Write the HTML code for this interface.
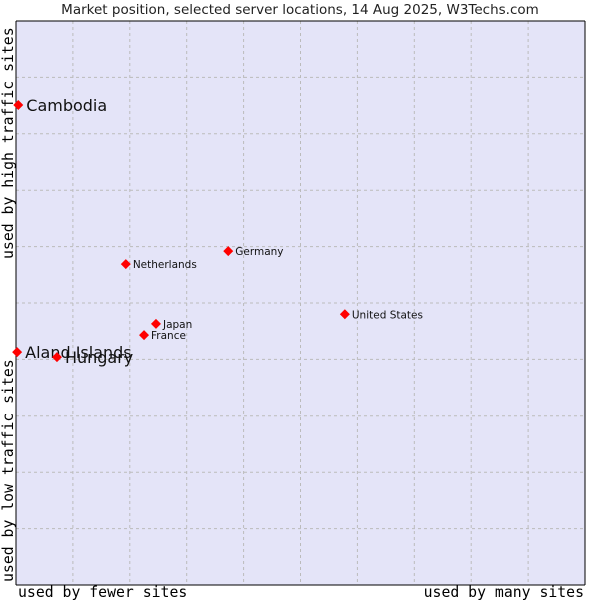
<!DOCTYPE html>
<html><head><meta charset="utf-8"><style>
body{margin:0;background:#fff;}
svg{display:block;}
</style></head><body>
<svg id="chart" width="600" height="600" xmlns="http://www.w3.org/2000/svg">
<text x="300" y="14" text-anchor="middle" font-family="DejaVu Sans, sans-serif" font-size="13.5" fill="#222">Market position, selected server locations, 14 Aug 2025, W3Techs.com</text>
<rect x="16" y="21" width="569" height="564" fill="#e4e4f8"/>
<g id="grid"></g>
<line x1="16" y1="21" x2="585" y2="21" stroke="#000"/>
<line x1="16" y1="21" x2="16" y2="585" stroke="#000"/>
<line x1="16" y1="585" x2="585" y2="585" stroke="#000"/>
<line x1="585" y1="21" x2="585" y2="585" stroke="#000"/>
<g id="points"></g>
<text x="18" y="597" font-family="DejaVu Sans Mono, monospace" font-size="14.8" fill="#000">used by fewer sites</text>
<text x="584" y="597" text-anchor="end" font-family="DejaVu Sans Mono, monospace" font-size="14.8" fill="#000">used by many sites</text>
<text transform="translate(13,259) rotate(-90)" font-family="DejaVu Sans Mono, monospace" font-size="14.8" fill="#000">used by high traffic sites</text>
<text transform="translate(13,582) rotate(-90)" font-family="DejaVu Sans Mono, monospace" font-size="14.8" fill="#000">used by low traffic sites</text>
</svg>
<script>
const names = ["Cambodia","Aland Islands","Hungary","Netherlands","Germany","United States","Japan","France"];
const xVals = [0.4,0.2,7.2,19.3,37.3,57.8,24.6,22.5];
const yVals = [85.1,41.3,40.4,56.9,59.2,48.0,46.3,44.3];
const bigLabel = [true,true,true,false,false,false,false,false];
const NS="http://www.w3.org/2000/svg";
const L=16,R=585,T=21,B=585;
const sx=v=>L+v/100*(R-L);
const sy=v=>B-v/100*(B-T);
const grid=document.getElementById('grid');
for(let i=1;i<10;i++){
  const v=document.createElementNS(NS,'line');
  v.setAttribute('x1',sx(i*10));v.setAttribute('x2',sx(i*10));v.setAttribute('y1',T);v.setAttribute('y2',B);
  v.setAttribute('stroke','#bbb');v.setAttribute('stroke-dasharray','3,3');
  
  
  grid.appendChild(v);
  const h=document.createElementNS(NS,'line');
  h.setAttribute('y1',sy(i*10));h.setAttribute('y2',sy(i*10));h.setAttribute('x1',L);h.setAttribute('x2',R);
  h.setAttribute('stroke','#bbb');h.setAttribute('stroke-dasharray','3,3');
  
  
  grid.appendChild(h);
}
const pts=document.getElementById('points');
names.forEach((n,i)=>{
  const x=sx(xVals[i]),y=sy(yVals[i]);
  const d=document.createElementNS(NS,'path');
  d.setAttribute('d',`M${x} ${y-5}L${x+5} ${y}L${x} ${y+5}L${x-5} ${y}Z`);
  d.setAttribute('fill','#f00');
  
  
  pts.appendChild(d);
  const t=document.createElementNS(NS,'text');
  t.textContent=n;
  t.setAttribute('x',x+(bigLabel[i]?8:7));
  t.setAttribute('y',y+(bigLabel[i]?6:4));
  t.setAttribute('font-family','DejaVu Sans, sans-serif');
  t.setAttribute('font-size',bigLabel[i]?'16':'10.5');
  t.setAttribute('fill','#111');
  
  
  pts.appendChild(t);
});
</script>
</body></html>
